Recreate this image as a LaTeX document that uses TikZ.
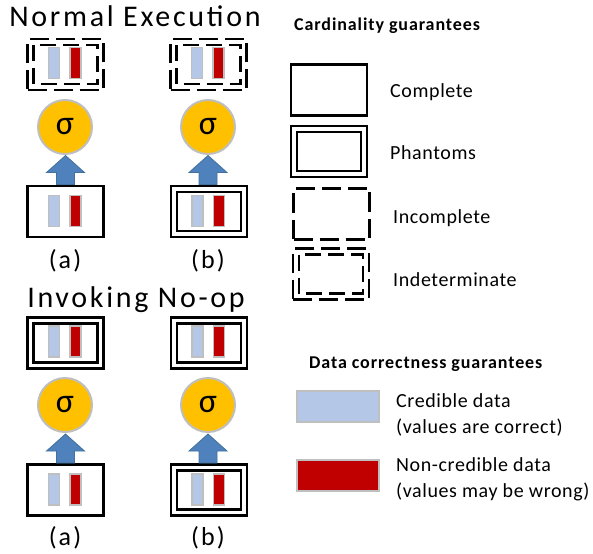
\documentclass[tikz,border=0pt]{standalone}
\usepackage{fontspec}
\setmainfont{Carlito}
\usetikzlibrary{calc}
\definecolor{sigorange}{HTML}{FFC000}
\definecolor{barblue}{HTML}{B4C7E7}
\definecolor{barred}{HTML}{C00000}
\definecolor{bargray}{HTML}{BFBFBF}
\definecolor{arrowblue}{HTML}{4F81BD}
\definecolor{arrowedge}{HTML}{41719C}
\begin{document}
\begin{tikzpicture}[x=1pt,y=-1pt,
  boxline/.style={draw=black,line width=2.5pt},
  cbox/.style={boxline,rectangle,minimum width=76pt,minimum height=51pt,inner sep=0pt,outer sep=0pt},
  dshbox/.style={cbox,dash pattern=on 19pt off 7pt},
  dshline/.style={boxline,dash pattern=on 16pt off 7pt},
  cbar/.style={rectangle,fill=barblue,draw=bargray,line width=1.8pt,minimum width=11pt,minimum height=31pt,inner sep=0pt},
  nbar/.style={cbar,fill=barred},
  sig/.style={circle,fill=sigorange,draw=bargray,line width=2pt,minimum size=54pt,inner sep=0pt,font=\fontsize{34}{34}\selectfont},
  barrow/.style={fill=arrowblue,draw=arrowedge,line width=0.8pt,line join=miter},
  title/.style={anchor=base,inner sep=0pt,font=\fontsize{30}{30}\selectfont\addfontfeatures{LetterSpace=9}},
  sub/.style={anchor=base,inner sep=0pt,font=\fontsize{26}{26}\selectfont\addfontfeatures{LetterSpace=8}},
  legtext/.style={anchor=base west,inner sep=0pt,font=\fontsize{20}{20}\selectfont\addfontfeatures{LetterSpace=3}},
  leghead/.style={anchor=base west,inner sep=0pt,font=\fontsize{18}{18}\selectfont\bfseries\addfontfeatures{LetterSpace=5}},
  legbar/.style={rectangle,draw=bargray,line width=2pt,minimum width=82pt,minimum height=31pt,inner sep=0pt}
]
\useasboundingbox (0,0) rectangle (593,553);

% ---------- Normal Execution ----------
\node[title] (t1) at (135,27) {Normal Execution};

% column (a)
\node[dshbox] (na-top) at (65.5,64.5) {};
\draw[dshline] ($(na-top.north west)+(6,6)$) rectangle ($(na-top.south east)+(-6,-6)$);
\node[cbar] (na-top-c) at ($(na-top.center)+(-11.5,-1.5)$) {};
\node[nbar] (na-top-n) at ($(na-top.center)+(10,-1.5)$) {};
\node[sig] (na-sig) at (65,127) {σ};
\node[cbox] (na-in) at (65.5,211.5) {};
\node[cbar] (na-in-c) at ($(na-in.center)+(-11.5,-0.5)$) {};
\node[nbar] (na-in-n) at ($(na-in.center)+(10,-0.5)$) {};
\draw[barrow] ($(na-in.north)+(-9,-1.5)$) -- ++(0,-12) -- ++(-10,0) -- ++(19,-17) -- ++(19,17) -- ++(-10,0) -- ++(0,12) -- cycle;
\node[sub] (na-lab) at (65,268) {(a)};

% column (b)
\node[dshbox] (nb-top) at (208.5,64.5) {};
\draw[dshline] ($(nb-top.north west)+(6,6)$) rectangle ($(nb-top.south east)+(-6,-6)$);
\node[cbar] (nb-top-c) at ($(nb-top.center)+(-11.5,-1.5)$) {};
\node[nbar] (nb-top-n) at ($(nb-top.center)+(10,-1.5)$) {};
\node[sig] (nb-sig) at (208,127) {σ};
\node[cbox] (nb-in) at (209,211.5) {};
\draw[boxline] ($(nb-in.north west)+(6,6)$) rectangle ($(nb-in.south east)+(-6,-6)$);
\node[cbar] (nb-in-c) at ($(nb-in.center)+(-11.5,-0.5)$) {};
\node[nbar] (nb-in-n) at ($(nb-in.center)+(10,-0.5)$) {};
\draw[barrow] ($(nb-in.north)+(-10,-1.5)$) -- ++(0,-12) -- ++(-10,0) -- ++(19,-17) -- ++(19,17) -- ++(-10,0) -- ++(0,12) -- cycle;
\node[sub] (nb-lab) at (208,268) {(b)};

% ---------- Invoking No-op ----------
\node[title] (t2) at (136,307) {Invoking No-op};

% column (a)
\node[cbox] (ia-top) at (65.5,343) {};
\draw[boxline] ($(ia-top.north west)+(6,6)$) rectangle ($(ia-top.south east)+(-6,-6)$);
\node[cbar] (ia-top-c) at ($(ia-top.center)+(-11.5,-1.5)$) {};
\node[nbar] (ia-top-n) at ($(ia-top.center)+(10,-1.5)$) {};
\node[sig] (ia-sig) at (65,405) {σ};
\node[cbox] (ia-in) at (65.5,490) {};
\node[cbar] (ia-in-c) at ($(ia-in.center)+(-11.5,-0.5)$) {};
\node[nbar] (ia-in-n) at ($(ia-in.center)+(10,-0.5)$) {};
\draw[barrow] ($(ia-in.north)+(-9,-1.5)$) -- ++(0,-12) -- ++(-10,0) -- ++(19,-17) -- ++(19,17) -- ++(-10,0) -- ++(0,12) -- cycle;
\node[sub] (ia-lab) at (65,545) {(a)};

% column (b)
\node[cbox] (ib-top) at (209,343) {};
\draw[boxline] ($(ib-top.north west)+(6,6)$) rectangle ($(ib-top.south east)+(-6,-6)$);
\node[cbar] (ib-top-c) at ($(ib-top.center)+(-11.5,-1.5)$) {};
\node[nbar] (ib-top-n) at ($(ib-top.center)+(10,-1.5)$) {};
\node[sig] (ib-sig) at (208,405) {σ};
\node[cbox] (ib-in) at (209,490) {};
\draw[boxline] ($(ib-in.north west)+(6,6)$) rectangle ($(ib-in.south east)+(-6,-6)$);
\node[cbar] (ib-in-c) at ($(ib-in.center)+(-11.5,-0.5)$) {};
\node[nbar] (ib-in-n) at ($(ib-in.center)+(10,-0.5)$) {};
\draw[barrow] ($(ib-in.north)+(-10,-1.5)$) -- ++(0,-12) -- ++(-10,0) -- ++(19,-17) -- ++(19,17) -- ++(-10,0) -- ++(0,12) -- cycle;
\node[sub] (ib-lab) at (208,545) {(b)};

% ---------- Legend: cardinality ----------
\node[leghead] (h1) at (294,31) {Cardinality guarantees};

\node[cbox] (l-comp) at (329,90) {};
\node[legtext] (l-comp-t) at (390,98) {Complete};

\node[cbox] (l-phan) at (329,151.5) {};
\draw[boxline] ($(l-phan.north west)+(6,6)$) rectangle ($(l-phan.south east)+(-6,-6)$);
\node[legtext] (l-phan-t) at (390,160) {Phantoms};

\node[dshbox] (l-inc) at (331.5,214) {};
\node[legtext] (l-inc-t) at (393,223) {Incomplete};

\node[dshbox] (l-ind) at (331,274) {};
\draw[dshline] ($(l-ind.north west)+(6,6)$) rectangle ($(l-ind.south east)+(-6,-6)$);
\node[legtext] (l-ind-t) at (393,286) {Indeterminate};

% ---------- Legend: data correctness ----------
\node[leghead] (h2) at (309,368) {Data correctness guarantees};

\node[legbar,fill=barblue] (l-cred) at (338,406.5) {};
\node[legtext] (l-cred-t1) at (396,407) {Credible data};
\node[legtext] (l-cred-t2) at (396,433) {(values are correct)};

\node[legbar,fill=barred] (l-ncred) at (338,475) {};
\node[legtext] (l-ncred-t1) at (396,471) {Non-credible data};
\node[legtext] (l-ncred-t2) at (396,497) {(values may be wrong)};
\end{tikzpicture}
\end{document}
